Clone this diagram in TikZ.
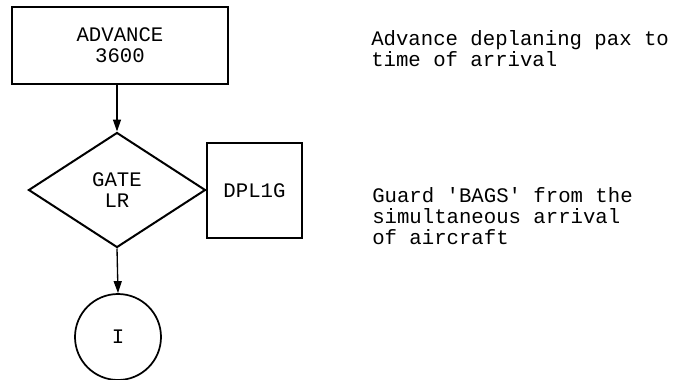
\documentclass[tikz,border=0pt]{standalone}
\usepackage{fontspec}
\setmonofont{Liberation Mono}
\usetikzlibrary{shapes.geometric,arrows.meta}

\tikzset{
  chartfont/.style={font=\ttfamily\fontsize{15.5}{15.5}\selectfont},
  procbox/.style={draw,line width=1.5pt,chartfont,align=center,inner sep=0pt},
  gatediam/.style={draw,diamond,line width=1.5pt,chartfont,align=center,inner sep=0pt},
  endcirc/.style={draw,circle,line width=1.3pt,chartfont,inner sep=0pt},
  note/.style={chartfont,align=left,inner sep=0.75pt},
  flowarrow/.style={line width=1pt,-{Triangle[length=9pt,width=6pt]}}
}

\begin{document}
\begin{tikzpicture}[x=0.75pt,y=0.75pt,yscale=-1,xscale=1]
\useasboundingbox (0,0) rectangle (675,379);

%Shape: Rectangle [advance block]
\draw (120,45.5) node [procbox,minimum width=162pt,minimum height=57.75pt] (advance) {ADVANCE\\3600};
%Shape: Diamond [gate block]
\draw (117,190) node [gatediam,minimum width=132.75pt,minimum height=86.25pt] (gate) {GATE\\LR};
%Shape: Rectangle [queue name]
\draw (254.5,190.5) node [procbox,minimum width=71.25pt,minimum height=71.25pt] (dpl) {DPL1G};
%Shape: Circle [connector I]
\draw (118,337) node [endcirc,minimum size=64.5pt] (conn) {I};

%Straight Lines
\draw [flowarrow] (advance.south -| gate.north) -- (gate.north) ;
%Straight Lines
\draw [flowarrow] (gate.south) -- (conn.north) ;

% Text Node
\draw (370,48.5) node [note,anchor=west] (advnote) {Advance deplaning pax to\\time of arrival};
% Text Node
\draw (371,216) node [note,anchor=west] (gatenote) {Guard 'BAGS' from the\\simultaneous arrival\\of aircraft};

\end{tikzpicture}
\end{document}
